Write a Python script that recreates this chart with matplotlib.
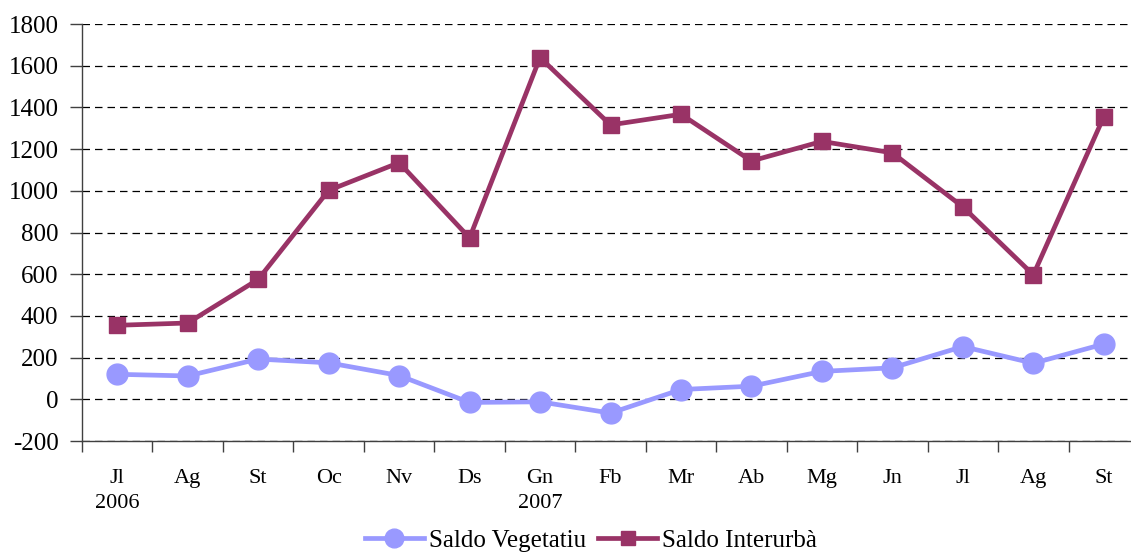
import numpy as np
import matplotlib
matplotlib.use("Agg")
import matplotlib.pyplot as plt
from matplotlib.ticker import FixedLocator

plt.rcParams['font.family'] = ['Liberation Serif', 'DejaVu Serif']
plt.rcParams['axes.unicode_minus'] = False

months = ['Jl\n2006', 'Ag', 'St', 'Oc', 'Nv', 'Ds', 'Gn\n2007', 'Fb', 'Mr', 'Ab',
          'Mg', 'Jn', 'Jl', 'Ag', 'St']
saldo_vegetativ = [120, 112, 193, 175, 114, -15, -12, -66, 47, 63, 134, 151, 253, 173, 265]
saldo_interurba = [355, 366, 575, 1002, 1135, 774, 1639, 1316, 1367, 1143, 1237, 1182, 923, 597, 1355]

fig = plt.figure(figsize=(11.31, 5.53), dpi=100)
ax = fig.add_axes([0.0725, 0.2025, 0.9346, 0.7541])

x = np.arange(len(months))
ax.plot(x, saldo_vegetativ, color='#9999FF', lw=3.4, marker='o', markersize=15,
        label='Saldo Vegetatiu', zorder=3)
ax.plot(x, saldo_interurba, color='#993366', lw=3.4, marker='s', markersize=11,
        label='Saldo Interurbà', zorder=3)

ax.set_xlim(-0.5, len(months) - 0.5)
ax.set_ylim(-200, 1800)
ax.set_yticks(np.arange(-200, 1801, 200))
ax.set_xticks(x)
ax.set_xticklabels(months, linespacing=1.45, va='top')
ax.xaxis.set_minor_locator(FixedLocator(np.arange(-0.5, len(months), 1.0)))
ax.tick_params(axis='x', which='major', length=0, pad=20, labelsize=16)
ax.tick_params(axis='x', which='minor', length=8, width=1, direction='out', color='#404040')
ax.tick_params(axis='y', length=9, width=1, color='#404040', labelsize=18, pad=8)

ax.grid(axis='y', color='black', linestyle=(0, (6, 4)), linewidth=0.9)
ax.set_axisbelow(True)
for side in ['top', 'right']:
    ax.spines[side].set_visible(False)
for side in ['left', 'bottom']:
    ax.spines[side].set_color('#404040')
    ax.spines[side].set_linewidth(1)

fig.legend(*ax.get_legend_handles_labels(), loc='center', bbox_to_anchor=(0.5225, 0.0217),
           ncol=2, frameon=False, fontsize=18, handlelength=2.35, handletextpad=0.2,
           columnspacing=0.5, borderaxespad=0, borderpad=0, markerscale=0.9)

fig.savefig('out.png', dpi=100)
